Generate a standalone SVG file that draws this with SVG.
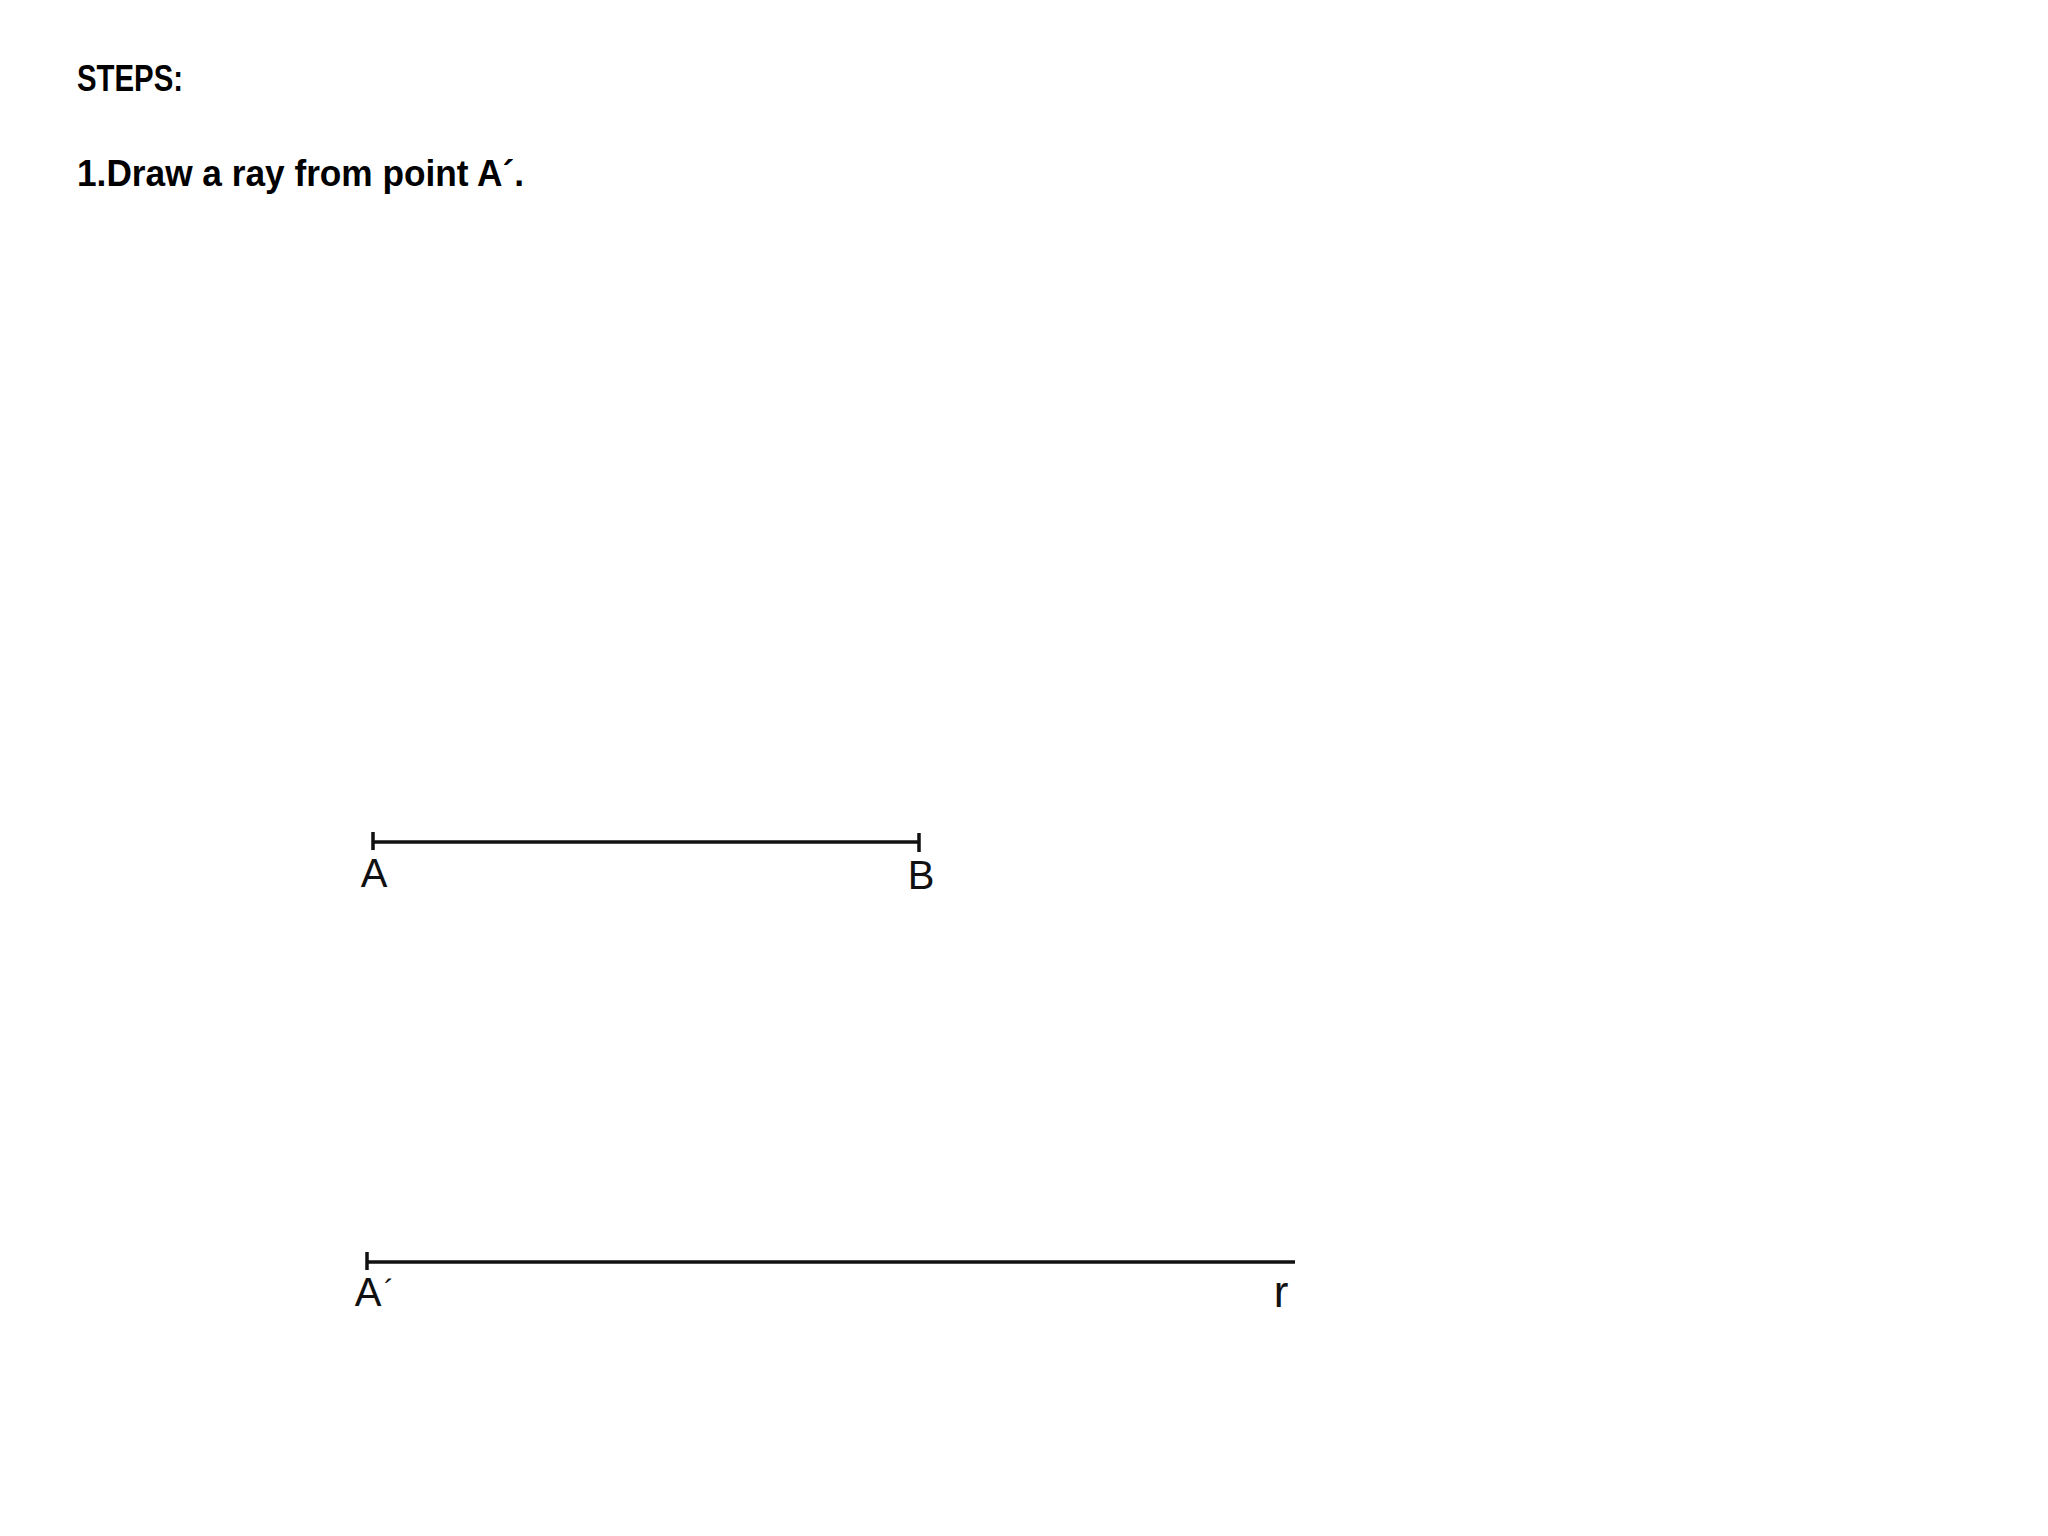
<svg xmlns="http://www.w3.org/2000/svg" width="2048" height="1536" viewBox="0 0 2048 1536">
<style>
.title{font-family:"Liberation Sans",Arial,sans-serif;font-weight:bold;font-size:37px;fill:#000}
.lbl{font-family:"Liberation Sans",Arial,sans-serif;font-size:40px;fill:#111;text-anchor:middle}
.ln{stroke:#111;stroke-width:3.5;fill:none}
</style>
<rect width="2048" height="1536" fill="#fff"/>
<text class="title" x="77" y="91" textLength="106" lengthAdjust="spacingAndGlyphs">STEPS:</text>
<text class="title" x="77" y="186" textLength="447" lengthAdjust="spacingAndGlyphs">1.Draw a ray from point A´.</text>
<g id="segmentAB">
<line class="ln" x1="373" y1="842" x2="919" y2="842"/>
<line class="ln" x1="373" y1="832" x2="373" y2="850"/>
<line class="ln" x1="919" y1="833" x2="919" y2="852"/>
<text class="lbl" x="374" y="887">A</text>
<text class="lbl" x="921" y="889">B</text>
</g>
<g id="ray">
<line class="ln" x1="367" y1="1262" x2="1295" y2="1262"/>
<line class="ln" x1="367" y1="1252" x2="367" y2="1270"/>
<text class="lbl" x="368" y="1306">A</text>
<text class="lbl" x="389" y="1300" style="font-size:30px">´</text>
<text class="lbl" x="1281" y="1307" style="font-size:44px">r</text>
</g>
</svg>
